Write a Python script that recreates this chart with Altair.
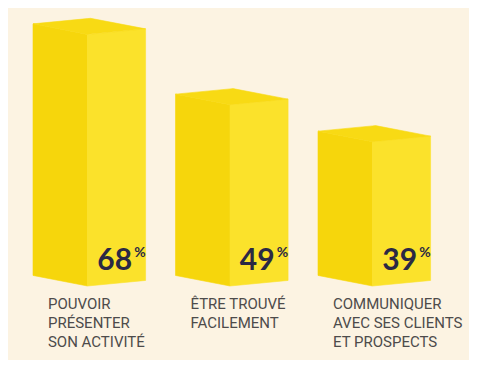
import altair as alt
import pandas as pd

# ---- data ----
categories = [
    "POUVOIR\nPRÉSENTER\nSON ACTIVITÉ",
    "ÊTRE TROUVÉ\nFACILEMENT",
    "COMMUNIQUER\nAVEC SES CLIENTS\nET PROSPECTS",
]
values = [68, 49, 39]

# ---- 3D box geometry (in axis units) ----
FRONT = 0.3825   # x of front edge relative to left edge of box
BACK = 0.4035    # x of back corner of top face
RIGHT = 0.79     # x of right edge
DL = 2.85        # vertical rise of left edge (perspective)
DR = 1.5         # vertical rise of right edge

face_rows = []
for i, v in enumerate(values):
    L, F, B, R = i, i + FRONT, i + BACK, i + RIGHT
    face_rows += [
        dict(poly=f"{i}L", face="left", x=L, y=v + DL, y2=DL),
        dict(poly=f"{i}L", face="left", x=F, y=v, y2=0),
        dict(poly=f"{i}R", face="right", x=F, y=v, y2=0),
        dict(poly=f"{i}R", face="right", x=R, y=v + DR, y2=DR),
    ]
    up_f = v + DL + DR * (FRONT / BACK)
    lo_b = v + DR * (BACK - FRONT) / (RIGHT - FRONT)
    face_rows += [
        dict(poly=f"{i}T", face="top", x=L, y=v + DL, y2=v + DL),
        dict(poly=f"{i}T", face="top", x=F, y=up_f, y2=v),
        dict(poly=f"{i}T", face="top", x=B, y=v + DL + DR, y2=lo_b),
        dict(poly=f"{i}T", face="top", x=R, y=v + DR, y2=v + DR),
    ]
faces = pd.DataFrame(face_rows)

labels = pd.DataFrame({
    "i": list(range(len(values))),
    "cat": categories,
    "num": [str(v) for v in values],
    "pct": ["%"] * len(values),
    "y": [0] * len(values),
})

W, H = 461, 352
xs = alt.Scale(domain=[-0.17544, 3.0596], nice=False, zero=False)
ys = alt.Scale(domain=[-20.0, 75.135], nice=False, zero=False)

face_scale = alt.Scale(domain=["left", "right", "top"],
                       range=["#F6D60C", "#FBE22B", "#F8DA14"])

boxes = alt.Chart(faces).mark_area(strokeWidth=0.6, interpolate="linear").encode(
    x=alt.X("x:Q", scale=xs, axis=None),
    y=alt.Y("y:Q", scale=ys, axis=None, stack=None),
    y2="y2:Q",
    color=alt.Color("face:N", scale=face_scale, legend=None),
    stroke=alt.Stroke("face:N", scale=face_scale, legend=None),
    detail="poly:N",
)

nums = alt.Chart(labels).transform_calculate(xn="datum.i + 0.695").mark_text(
    align="right", baseline="alphabetic", dy=-16, font="Lato",
    fontWeight="bold", fontSize=30, color="#2B2944",
).encode(
    x=alt.X("xn:Q", scale=xs, axis=None),
    y=alt.Y("y:Q", scale=ys, axis=None),
    text="num:N",
)

pcts = alt.Chart(labels).transform_calculate(xp="datum.i + 0.71").mark_text(
    align="left", baseline="alphabetic", dy=-29, font="Lato",
    fontWeight="bold", fontSize=14, color="#2B2944",
).encode(
    x=alt.X("xp:Q", scale=xs, axis=None),
    y=alt.Y("y:Q", scale=ys, axis=None),
    text="pct:N",
)

cats = alt.Chart(labels).transform_calculate(xc="datum.i + 0.105").mark_text(
    align="left", baseline="alphabetic", dy=23, font="Roboto",
    fontSize=15, lineHeight=19, lineBreak="\n", color="#4D4B4B",
).encode(
    x=alt.X("xc:Q", scale=xs, axis=None),
    y=alt.Y("y:Q", scale=ys, axis=None),
    text="cat:N",
)

chart = alt.layer(boxes, nums, pcts, cats).properties(
    width=W, height=H, background="#FCF3E2", padding=0, autosize="none",
).configure_view(stroke=None)

chart.save("out.html", embed_options={"renderer": "svg", "actions": False})
